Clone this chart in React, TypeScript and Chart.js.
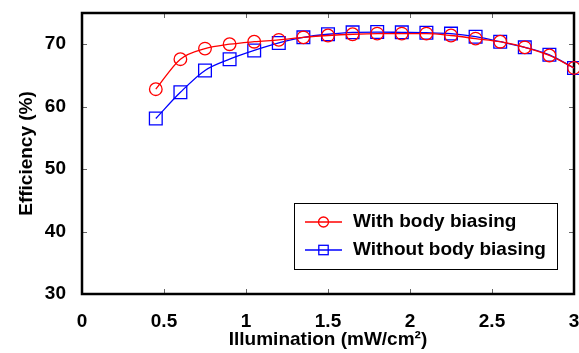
import { useEffect, useRef } from "react";
import { Chart, registerables } from "chart.js";

Chart.register(...registerables);

// ---- data ----
const illumination = [0.45, 0.6, 0.75, 0.9, 1.05, 1.2, 1.35, 1.5, 1.65, 1.8, 1.95, 2.1, 2.25, 2.4, 2.55, 2.7, 2.85, 3.0];
const withBiasing = [62.8, 67.6, 69.3, 70.0, 70.4, 70.7, 71.1, 71.4, 71.6, 71.7, 71.7, 71.7, 71.4, 70.9, 70.4, 69.5, 68.2, 66.2];
const withoutBiasing = [58.1, 62.3, 65.8, 67.6, 69.0, 70.2, 71.1, 71.6, 71.9, 71.95, 71.9, 71.85, 71.7, 71.2, 70.4, 69.5, 68.3, 66.2];
const seriesLabels = ["With body biasing", "Without body biasing"];
const xTickValues = [0, 0.5, 1, 1.5, 2, 2.5, 3];
const yTickValues = [30, 40, 50, 60, 70];
const xTitle = "Illumination (mW/cm\u00B2)";
const yTitle = "Efficiency (%)";

const FONT_FAMILY = '"Liberation Sans", Arial, Helvetica, sans-serif';
const font = { family: FONT_FAMILY, size: 19, weight: "bold" as const };

const framePlugin = {
  id: "frame",
  beforeDatasetsDraw(chart: any) {
    const { ctx, chartArea: a, scales } = chart;
    ctx.save();
    ctx.strokeStyle = "#666";
    ctx.lineWidth = 1;
    ctx.beginPath();
    for (const t of scales.x.ticks) {
      const px = Math.round(scales.x.getPixelForValue(t.value)) + 0.5;
      ctx.moveTo(px, a.bottom);
      ctx.lineTo(px, a.bottom - 5);
      ctx.moveTo(px, a.top);
      ctx.lineTo(px, a.top + 5);
    }
    for (const t of scales.y.ticks) {
      const py = Math.round(scales.y.getPixelForValue(t.value)) + 0.5;
      ctx.moveTo(a.left, py);
      ctx.lineTo(a.left + 5, py);
      ctx.moveTo(a.right, py);
      ctx.lineTo(a.right - 5, py);
    }
    ctx.stroke();
    ctx.strokeStyle = "#000";
    ctx.lineWidth = 2.5;
    ctx.strokeRect(a.left, a.top, a.right - a.left, a.bottom - a.top);
    ctx.restore();
  },
};

const legendBoxPlugin = {
  id: "legendBox",
  afterDatasetsDraw(chart: any) {
    const { ctx, chartArea: a } = chart;
    const w = 263;
    const h = 66;
    const left = Math.round(a.right - 17 - w);
    const top = Math.round(a.bottom - 25 - h);
    ctx.save();
    ctx.fillStyle = "#fff";
    ctx.fillRect(left, top, w, h);
    ctx.strokeStyle = "#000";
    ctx.lineWidth = 1;
    ctx.strokeRect(left + 0.5, top + 0.5, w, h);
    chart.data.datasets.forEach((ds: any, i: number) => {
      const cy = top + 19 + i * 28;
      ctx.strokeStyle = ds.borderColor;
      ctx.lineWidth = 1.3;
      ctx.beginPath();
      ctx.moveTo(left + 11, cy);
      ctx.lineTo(left + 48, cy);
      ctx.stroke();
      const mx = left + 29.5;
      if (ds.pointStyle === "circle") {
        ctx.beginPath();
        ctx.arc(mx, cy, 5, 0, Math.PI * 2);
        ctx.stroke();
      } else {
        ctx.strokeRect(mx - 4.7, cy - 4.7, 9.4, 9.4);
      }
      ctx.fillStyle = "#000";
      ctx.font = `bold 19px ${FONT_FAMILY}`;
      ctx.textBaseline = "middle";
      ctx.textAlign = "left";
      ctx.fillText(ds.label, left + 59, cy);
    });
    ctx.restore();
  },
};

export default function App() {
  const canvasRef = useRef<HTMLCanvasElement | null>(null);

  useEffect(() => {
    if (!canvasRef.current) return;
    const chart = new Chart(canvasRef.current, {
      type: "line",
      data: {
        datasets: [
          {
            label: seriesLabels[0],
            data: illumination.map((x, i) => ({ x, y: withBiasing[i] })),
            borderColor: "#ff0000",
            backgroundColor: "transparent",
            borderWidth: 1.3,
            pointStyle: "circle",
            pointRadius: 6.3,
            pointBorderWidth: 1.3,
            pointBorderColor: "#ff0000",
            pointBackgroundColor: "transparent",
            cubicInterpolationMode: "monotone",
            clip: false as any,
          },
          {
            label: seriesLabels[1],
            data: illumination.map((x, i) => ({ x, y: withoutBiasing[i] })),
            borderColor: "#0000ff",
            backgroundColor: "transparent",
            borderWidth: 1.3,
            pointStyle: "rect",
            pointRadius: 9,
            pointBorderWidth: 1.3,
            pointBorderColor: "#0000ff",
            pointBackgroundColor: "transparent",
            cubicInterpolationMode: "monotone",
            clip: false as any,
          },
        ],
      },
      options: {
        animation: false,
        responsive: false,
        layout: { autoPadding: false, padding: { top: 13, right: 5, left: 0, bottom: 0 } },
        plugins: {
          legend: { display: false },
          tooltip: { enabled: false },
        },
        scales: {
          x: {
            type: "linear",
            min: 0,
            max: 3,
            grid: { display: false },
            border: { display: false },
            afterBuildTicks: (s: any) => {
              s.ticks = xTickValues.map((v) => ({ value: v }));
            },
            afterFit: (s: any) => {
              s.height = 59;
              s.paddingLeft = 0;
              s.paddingRight = 0;
            },
            ticks: {
              padding: 8,
              color: "#000",
              font,
              maxRotation: 0,
              autoSkip: false,
              callback: (v: any) => String(v),
            },
            title: {
              display: true,
              text: xTitle,
              color: "#000",
              font,
              padding: { top: 0, bottom: 2 },
            },
          },
          y: {
            type: "linear",
            min: 30,
            max: 75,
            grid: { display: false },
            border: { display: false },
            afterBuildTicks: (s: any) => {
              s.ticks = yTickValues.map((v) => ({ value: v }));
            },
            afterFit: (s: any) => {
              s.width = 82;
              s.paddingTop = 0;
              s.paddingBottom = 0;
            },
            ticks: {
              padding: 8,
              color: "#000",
              font,
              autoSkip: false,
              callback: (v: any) => String(v),
            },
            title: {
              display: true,
              text: yTitle,
              color: "#000",
              font,
              padding: { top: 15, bottom: 0 },
            },
          },
        },
      },
      plugins: [framePlugin, legendBoxPlugin],
    });
    return () => chart.destroy();
  }, []);

  return (
    <div style={{ position: "absolute", left: 0, top: 0, width: 579, height: 353, background: "#fff" }}>
      <canvas ref={canvasRef} width={579} height={353} style={{ display: "block" }} />
    </div>
  );
}
